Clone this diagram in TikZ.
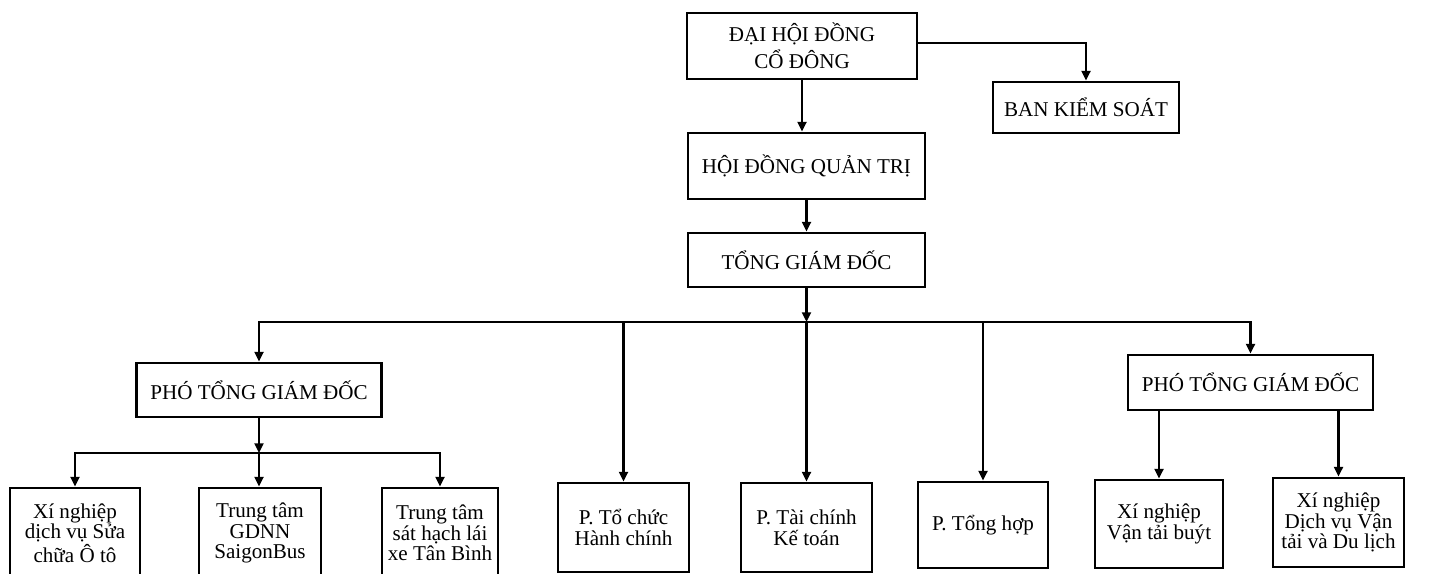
\documentclass[tikz,border=0pt]{standalone}
\usepackage{fontspec}
\setmainfont{Liberation Serif}
\usetikzlibrary{arrows.meta}
\tikzset{
  box/.style 2 args={draw,line width=1.6pt,fill=white,align=center,inner sep=0pt,
    minimum width=#1*0.02cm,minimum height=#2*0.02cm},
  link/.style={->,line width=1.4pt}
}

\begin{document}
\begin{tikzpicture}[x=0.02cm,y=-0.02cm,>={Triangle[length=5.5pt,width=5pt]},
      every node/.style={font=\fontsize{12}{11.7}\selectfont}]
      \useasboundingbox (0,0) rectangle (1429,574);
      % top levels
      \node[box={230}{66},font=\fontsize{12}{15.3}\selectfont] (dhcd) at (802,46) {ĐẠI HỘI ĐỒNG\\CỔ ĐÔNG};
      \node[box={186}{51}] (bks) at (1086,107.5) {BAN KIỂM SOÁT};
      \node[box={237}{66}] (hdqt) at (806.5,166) {HỘI ĐỒNG QUẢN TRỊ};
      \node[box={237}{54}] (tgd) at (806.5,260) {TỔNG GIÁM ĐỐC};
      \node[box={245}{54}] (ptgd_l) at (259,390) {PHÓ TỔNG GIÁM ĐỐC};
      \node[box={245}{55}] (ptgd_r) at (1250.5,382.5) {PHÓ TỔNG GIÁM ĐỐC};
      % bottom row
      \node[box={130}{90}] (xnsc) at (75,533) {Xí nghiệp\\dịch vụ Sửa\\chữa Ô tô};
      \node[box={122}{90}] (gdnn) at (260,533) {Trung tâm\\GDNN\\SaigonBus};
      \node[box={116}{90}] (shlx) at (440,533) {Trung tâm\\sát hạch lái\\xe Tân Bình};
      \node[box={131}{89}] (tchc) at (623.5,527.5) {P. Tổ chức\\Hành chính};
      \node[box={131}{89}] (tckt) at (806.5,527.5) {P. Tài chính\\Kế toán};
      \node[box={130}{86}] (tonghop) at (983,525) {P. Tổng hợp};
      \node[box={128}{88}] (xnvtb) at (1159,524) {Xí nghiệp\\Vận tải buýt};
      \node[box={131}{89}] (xndl) at (1338.5,522.5) {Xí nghiệp\\Dịch vụ Vận\\tải và Du lịch};
      \coordinate (bus) at (806.5,322);
      \coordinate (bus_l) at (259,453);
      % connectors
      \draw[link] (dhcd.south) -- (dhcd.south |- hdqt.north);
      \draw[link] ([yshift=3*0.02cm]dhcd.east) -| (bks);
      \draw[link] (hdqt) -- (tgd);
      \draw[link] (tgd) -- (bus);
      \draw[link] (bus) -| (ptgd_l);
      \draw[link] (bus) -| (ptgd_r);
      \draw[link] (bus -| tchc) -- (tchc);
      \draw[link] (bus -| tckt) -- (tckt);
      \draw[link] (bus -| tonghop) -- (tonghop);
      \draw[link] (ptgd_l) -- (bus_l);
      \draw[link] (bus_l) -| (xnsc);
      \draw[link] (bus_l) -- (bus_l |- gdnn.north);
      \draw[link] (bus_l) -| (shlx);
      \draw[link] (ptgd_r.south -| xnvtb) -- (xnvtb);
      \draw[link] (ptgd_r.south -| xndl) -- (xndl);
    \end{tikzpicture}
\end{document}
